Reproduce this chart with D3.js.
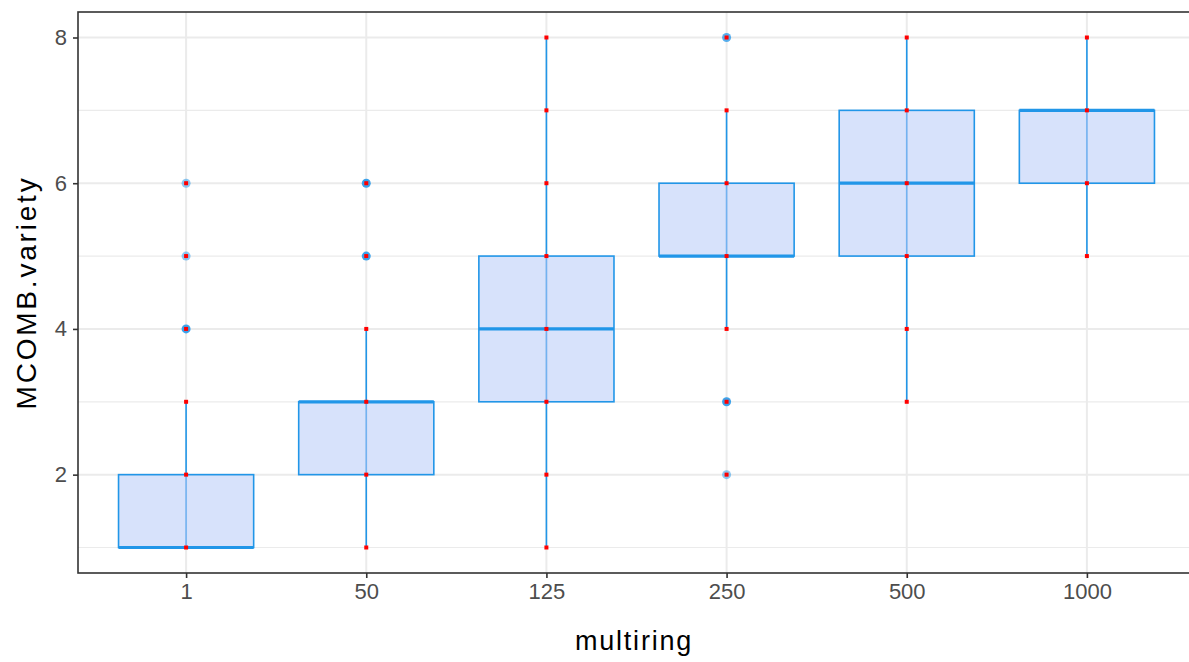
<!DOCTYPE html>
<html>
<head>
<script src="https://cdn.jsdelivr.net/npm/d3@7"></script>
<style>
  body { margin: 0; background: #fff; overflow: hidden; }
  text { font-family: "Liberation Sans", Arial, sans-serif; }
</style>
</head>
<body>
<svg id="viz"></svg>
<script>
// box statistics per multiring level
var categories = ["1", "50", "125", "250", "500", "1000"];
var lowerWhisker = [1, 1, 1, 4, 3, 5];
var q1 = [1, 2, 3, 5, 5, 6];
var medians = [1, 3, 4, 5, 6, 7];
var q3 = [2, 3, 5, 6, 7, 7];
var upperWhisker = [3, 4, 8, 7, 8, 8];
// outliers: [category, value, count]
var outliers = [
  ["1", 4, 3], ["1", 5, 1], ["1", 6, 1],
  ["50", 5, 3], ["50", 6, 3],
  ["250", 8, 2], ["250", 3, 3], ["250", 2, 1]
];
// observed values (red points)
var observed = {
  "1": [1, 2, 3, 4, 5, 6],
  "50": [1, 2, 3, 4, 5, 6],
  "125": [1, 2, 3, 4, 5, 6, 7, 8],
  "250": [2, 3, 4, 5, 6, 7, 8],
  "500": [3, 4, 5, 6, 7, 8],
  "1000": [5, 6, 7, 8]
};
var yTicks = [2, 4, 6, 8];
var yMinor = [1, 3, 5, 7];

var width = 1189, height = 662;
// panel runs past the right edge of the picture (cropped)
var panel = {left: 78, right: 1195, top: 12, bottom: 573};

var svg = d3.select("#viz").attr("width", width).attr("height", height);

var x = d3.scalePoint().domain(categories)
  .range([panel.left, panel.right]).padding(0.6);
var step = x.step();
var y = d3.scaleLinear().domain([0.65, 8.35])
  .range([panel.bottom, panel.top]);

var g = svg.append("g");

// grid
g.selectAll(".minor").data(yMinor).enter().append("line")
  .attr("x1", panel.left).attr("x2", panel.right)
  .attr("y1", function(d) { return y(d); }).attr("y2", function(d) { return y(d); })
  .attr("stroke", "#ebebeb").attr("stroke-width", 1.2);
g.selectAll(".major").data(yTicks).enter().append("line")
  .attr("x1", panel.left).attr("x2", panel.right)
  .attr("y1", function(d) { return y(d); }).attr("y2", function(d) { return y(d); })
  .attr("stroke", "#ebebeb").attr("stroke-width", 2);
g.selectAll(".vgrid").data(categories).enter().append("line")
  .attr("x1", function(d) { return x(d); }).attr("x2", function(d) { return x(d); })
  .attr("y1", panel.top).attr("y2", panel.bottom)
  .attr("stroke", "#ebebeb").attr("stroke-width", 2);

var boxColor = "#2196e8";
var boxW = step * 0.75;

var boxes = categories.map(function(c, i) {
  return {cat: c, lo: lowerWhisker[i], q1: q1[i], med: medians[i], q3: q3[i], hi: upperWhisker[i]};
});

// whiskers
g.selectAll(".whisk").data(boxes).enter().append("line")
  .attr("x1", function(d) { return x(d.cat); }).attr("x2", function(d) { return x(d.cat); })
  .attr("y1", function(d) { return y(d.hi); }).attr("y2", function(d) { return y(d.lo); })
  .attr("stroke", boxColor).attr("stroke-width", 1.6);

// boxes
g.selectAll(".box").data(boxes).enter().append("rect")
  .attr("x", function(d) { return x(d.cat) - boxW / 2; })
  .attr("width", boxW)
  .attr("y", function(d) { return y(d.q3); })
  .attr("height", function(d) { return y(d.q1) - y(d.q3); })
  .attr("fill", "rgba(183,202,248,0.55)")
  .attr("stroke", boxColor).attr("stroke-width", 1.6);

g.selectAll(".med").data(boxes).enter().append("line")
  .attr("x1", function(d) { return x(d.cat) - boxW / 2; })
  .attr("x2", function(d) { return x(d.cat) + boxW / 2; })
  .attr("y1", function(d) { return y(d.med); }).attr("y2", function(d) { return y(d.med); })
  .attr("stroke", boxColor).attr("stroke-width", 3.2);

// outliers
g.selectAll(".out").data(outliers).enter().append("circle")
  .attr("cx", function(d) { return x(d[0]); })
  .attr("cy", function(d) { return y(d[1]); })
  .attr("r", 4.5)
  .attr("fill", "#2196e8")
  .attr("opacity", function(d) { return 1 - Math.pow(0.5, d[2]); });

// red points
var pts = [];
categories.forEach(function(c) {
  observed[c].forEach(function(v) { pts.push([c, v]); });
});
g.selectAll(".pt").data(pts).enter().append("rect")
  .attr("x", function(d) { return x(d[0]) - 2; })
  .attr("y", function(d) { return y(d[1]) - 2; })
  .attr("width", 4).attr("height", 4)
  .attr("fill", "#f00");

// panel border
svg.append("rect")
  .attr("x", panel.left).attr("y", panel.top)
  .attr("width", panel.right - panel.left)
  .attr("height", panel.bottom - panel.top)
  .attr("fill", "none").attr("stroke", "#333").attr("stroke-width", 1.6);

// axes
var xAxis = svg.append("g")
  .attr("transform", "translate(0," + panel.bottom + ")")
  .call(d3.axisBottom(x).tickSize(5).tickPadding(5));
var yAxis = svg.append("g")
  .attr("transform", "translate(" + panel.left + ",0)")
  .call(d3.axisLeft(y).tickValues(yTicks).tickSize(5).tickPadding(6));
[xAxis, yAxis].forEach(function(a) {
  a.select(".domain").remove();
  a.selectAll(".tick line").attr("stroke", "#333").attr("stroke-width", 1.6);
  a.selectAll(".tick text").attr("fill", "#4d4d4d").style("font-size", "22px")
    .style("font-family", "'Liberation Sans', Arial, sans-serif");
});

svg.append("text")
  .attr("x", 634)
  .attr("y", 650)
  .attr("text-anchor", "middle")
  .style("font-size", "27px").style("letter-spacing", "1.8px").attr("fill", "#000")
  .text("multiring");

svg.append("text")
  .attr("transform", "translate(36," + ((panel.top + panel.bottom) / 2) + ") rotate(-90)")
  .attr("text-anchor", "middle")
  .style("font-size", "28px").style("letter-spacing", "2.8px").attr("fill", "#000")
  .text("MCOMB.variety");
</script>
</body>
</html>
